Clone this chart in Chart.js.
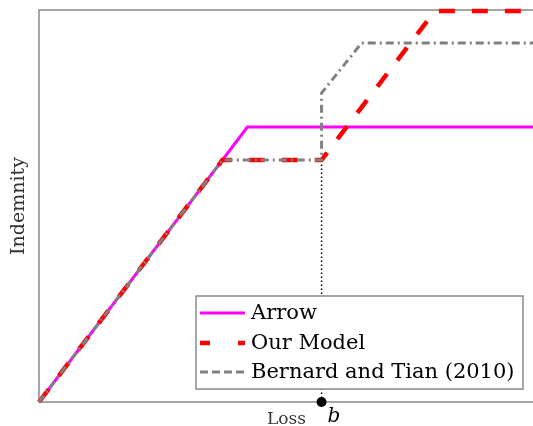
<!DOCTYPE html>
<html>
<head>
<meta charset="utf-8">
<script src="https://cdn.jsdelivr.net/npm/chart.js@4.4.1/dist/chart.umd.min.js"></script>
<style>
  html, body { margin: 0; padding: 0; background: #fff; overflow: hidden; }
  #wrap { position: relative; width: 533px; height: 426px; overflow: hidden; }
</style>
</head>
<body>
<div id="wrap"><canvas id="c" width="539" height="426"></canvas></div>
<script>
// ---- data (arbitrary units) ----
const arrowX = [0, 208, 494];
const arrowY = [0, 275, 275];
const modelX = [0, 183, 282, 395, 494];
const modelY = [0, 242, 242, 391, 391];
const btX = [0, 183, 282, 282, 322, 494];
const btY = [0, 242, 242, 309, 359, 359];
const bLoss = 282;
const bLevel = 242;
const seriesLabels = ['Arrow', 'Our Model', 'Bernard and Tian (2010)'];
const xTitle = 'Loss';
const yTitle = 'Indemnity';
const bLabel = 'b';
const xMax = 494, yMax = 392;

const pts = (xs, ys) => xs.map((x, i) => ({x, y: ys[i]}));

const SERIF = '"DejaVu Serif", "Liberation Serif", serif';

const framePlugin = {
  id: 'frame',
  beforeDatasetsDraw(chart) {
    const {ctx, chartArea: a} = chart;
    ctx.save();
    ctx.strokeStyle = '#8a8a8a';
    ctx.lineWidth = 1.5;
    ctx.beginPath();
    ctx.moveTo(a.right + 4, a.top);
    ctx.lineTo(a.left, a.top);
    ctx.lineTo(a.left, a.bottom);
    ctx.lineTo(a.right + 4, a.bottom);
    ctx.stroke();
    ctx.restore();
  },
  afterDatasetsDraw(chart) {
    const {ctx} = chart;
    const xs = chart.scales.x, ys = chart.scales.y;
    // legend box
    const bx = 196, by = 296, bw = 327, bh = 93;
    ctx.save();
    ctx.fillStyle = '#ffffff';
    ctx.fillRect(bx, by, bw, bh);
    ctx.strokeStyle = '#8a8a8a';
    ctx.lineWidth = 1.5;
    ctx.strokeRect(bx, by, bw, bh);
    const items = chart.data.datasets.filter(d => seriesLabels.includes(d.label));
    const rowY = [313, 343, 372];
    items.forEach((d, i) => {
      const y = rowY[i];
      ctx.save();
      ctx.strokeStyle = d.borderColor;
      ctx.lineWidth = d.borderWidth;
      ctx.setLineDash(d.legendDash || d.borderDash || []);
      ctx.beginPath();
      ctx.moveTo(200, y);
      ctx.lineTo(245, y);
      ctx.stroke();
      ctx.restore();
      ctx.fillStyle = '#000';
      ctx.font = '21px ' + SERIF;
      ctx.textBaseline = 'middle';
      ctx.textAlign = 'left';
      ctx.fillText(d.label, 251, y + 1);
    });
    // b label
    ctx.fillStyle = '#000';
    ctx.font = 'italic 20px ' + SERIF;
    ctx.textBaseline = 'alphabetic';
    ctx.fillText(bLabel, xs.getPixelForValue(bLoss) + 6, ys.getPixelForValue(0) + 20);
    ctx.restore();
  }
};

new Chart(document.getElementById('c'), {
  type: 'line',
  data: {
    datasets: [
      {
        label: seriesLabels[0], data: pts(arrowX, arrowY),
        borderColor: '#ff00ff', borderWidth: 3, pointRadius: 0, order: 3,
        clip: 6
      },
      {
        label: seriesLabels[1], data: pts(modelX, modelY),
        borderColor: '#ff0000', borderWidth: 4.5, borderDash: [16, 17],
        legendDash: [10, 28], pointRadius: 0, order: 2, clip: 6
      },
      {
        label: seriesLabels[2], data: pts(btX, btY),
        borderColor: '#808080', borderWidth: 3, borderDash: [8, 4, 2, 4],
        legendDash: [8, 4], pointRadius: 0, order: 1, clip: 6
      },
      {
        label: '_bline', data: pts([bLoss, bLoss], [0, bLevel]),
        borderColor: '#000', borderWidth: 1.5, borderDash: [1.5, 2.5],
        pointRadius: 0, order: 4, clip: 6
      },
      {
        label: '_bpoint', data: pts([bLoss], [0]),
        showLine: false, pointRadius: 5, pointBackgroundColor: '#000',
        pointBorderColor: '#000', pointBorderWidth: 0, order: 0, clip: 8
      }
    ]
  },
  options: {
    responsive: false,
    animation: false,
    events: [],
    layout: { padding: { top: 10, right: 0, left: 0, bottom: 0 } },
    plugins: { legend: { display: false }, tooltip: { enabled: false } },
    elements: { line: { tension: 0, borderCapStyle: 'butt' } },
    scales: {
      x: {
        type: 'linear', min: 0, max: xMax,
        grid: { display: false }, border: { display: false },
        ticks: { display: false },
        title: { display: true, text: xTitle, color: '#333',
                 font: { family: SERIF, size: 17, lineHeight: 0.8 },
                 padding: { top: 0, bottom: 0 } },
        afterFit(s) { s.height = 24; }
      },
      y: {
        type: 'linear', min: 0, max: yMax,
        grid: { display: false }, border: { display: false },
        ticks: { display: false },
        title: { display: true, text: yTitle, color: '#333',
                 font: { family: SERIF, size: 19, lineHeight: 1.2 },
                 padding: { top: 8, bottom: 0 } },
        afterFit(s) { s.width = 39; }
      }
    }
  },
  plugins: [framePlugin]
});
</script>
</body>
</html>
